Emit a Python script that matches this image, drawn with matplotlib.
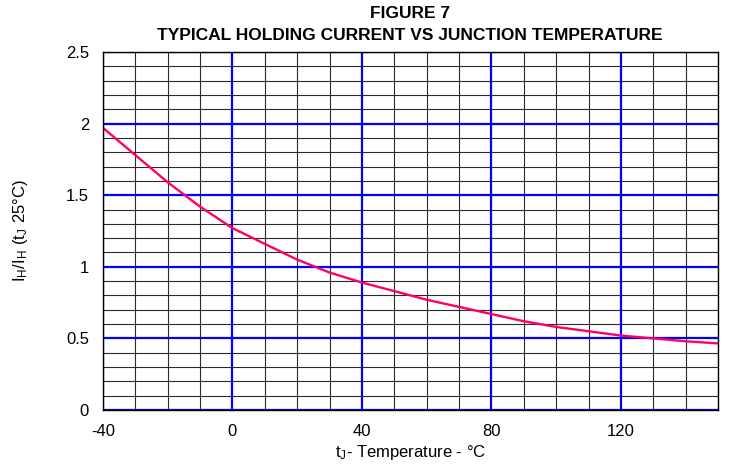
import matplotlib
matplotlib.use("Agg")
import matplotlib.pyplot as plt
from matplotlib.ticker import MultipleLocator

temps = [-40, -30, -20, -10, 0, 10, 20, 30, 40, 50, 60, 70, 80, 90, 100, 110, 120, 130, 140, 150]
ratio = [1.97, 1.78, 1.59, 1.42, 1.27, 1.16, 1.05, 0.96, 0.89, 0.83, 0.77, 0.72, 0.67, 0.62, 0.58, 0.55, 0.52, 0.50, 0.48, 0.465]
x_ticks = [-40, 0, 40, 80, 120]
x_tick_labels = ["-40", "0", "40", "80", "120"]
y_ticks = [0, 0.5, 1, 1.5, 2, 2.5]
y_tick_labels = ["0", "0.5", "1", "1.5", "2", "2.5"]

plt.rcParams['font.family'] = ['Liberation Sans', 'DejaVu Sans']
plt.rcParams['mathtext.fontset'] = 'custom'
plt.rcParams['mathtext.rm'] = 'Liberation Sans'

fig = plt.figure(figsize=(7.44, 4.67), dpi=100)
ax = fig.add_axes([103/744, 57/467, 615/744, 358/467])

ax.plot(temps, ratio, color='#ff0066', lw=1.7, zorder=3)

ax.set_xlim(-40, 150)
ax.set_ylim(0, 2.5)
ax.set_xticks(x_ticks)
ax.set_xticklabels(x_tick_labels)
ax.set_yticks(y_ticks)
ax.set_yticklabels(y_tick_labels)
ax.xaxis.set_minor_locator(MultipleLocator(10))
ax.yaxis.set_minor_locator(MultipleLocator(0.1))
ax.set_axisbelow(True)
ax.grid(which='minor', color='#2a2a2a', lw=0.8)
ax.grid(which='major', color='#0000ff', lw=1.6)
ax.tick_params(which='both', length=0, labelsize=12, colors='black')
ax.tick_params(axis='y', pad=10)
ax.tick_params(axis='x', pad=10)
for s in ax.spines.values():
    s.set_color('black')
    s.set_linewidth(1.0)
    s.set_zorder(4)

ax.set_xlabel(r'$\mathregular{t_J}$- Temperature - °C', fontsize=12, labelpad=3)
ax.set_ylabel(r'$\mathregular{I_H/I_H\ (t_J\ 25°C)}$', fontsize=12, labelpad=26)

fig.text(410/744, 1 - 13/467, 'FIGURE 7', ha='center', va='center',
         fontsize=12.5, fontweight='bold')
fig.text(410/744, 1 - 36/467, 'TYPICAL HOLDING CURRENT VS JUNCTION TEMPERATURE', ha='center', va='center',
         fontsize=12.5, fontweight='bold')

fig.savefig('out.png', dpi=100)
